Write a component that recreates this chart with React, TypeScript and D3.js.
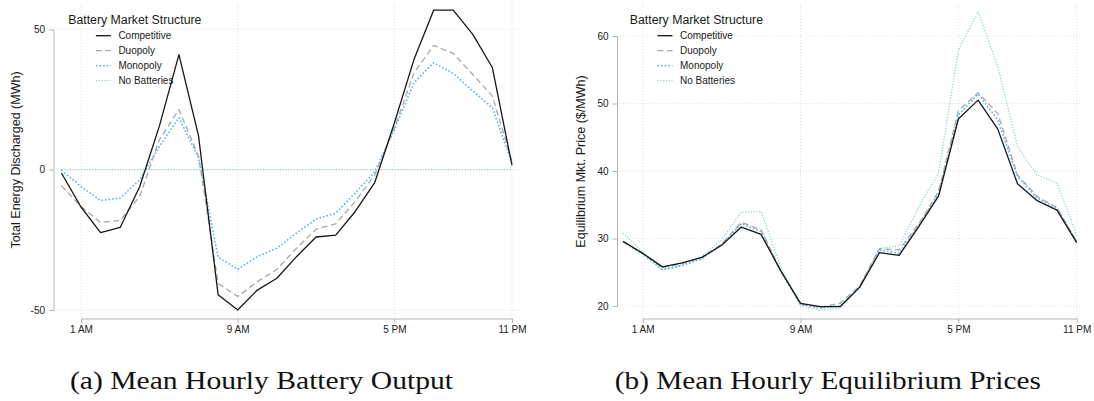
import React, { useRef, useEffect } from 'react';
import * as d3 from 'd3';

// hour of day (0 = midnight)
const hours = [0, 1, 2, 3, 4, 5, 6, 7, 8, 9, 10, 11, 12, 13, 14, 15, 16, 17, 18, 19, 20, 21, 22, 23];
const tickHours = [1, 9, 17, 23];
const tickLabels = ['1 AM', '9 AM', '5 PM', '11 PM'];
const seriesNames = ['Competitive', 'Duopoly', 'Monopoly', 'No Batteries'];
const legendTitle = 'Battery Market Structure';

// (a) total energy discharged (MWh)
const outputCompetitive = [-1.2, -13.3, -22.4, -20.6, -6, 15.5, 41, 12, -44.6, -50, -42.9, -38.7, -31, -24, -23.3, -14.9, -4.5, 16.7, 39.3, 56.8, 56.8, 48.2, 36.3, 1.5];
const outputDuopoly = [-5.7, -13.1, -18.8, -18.1, -9.5, 10.7, 21.4, 4.8, -40.5, -45.2, -39.9, -35.5, -28, -21.2, -19.3, -11.3, -1.8, 14.9, 34.5, 44.3, 41.4, 33.9, 26.2, 3];
const outputMonopoly = [-0.2, -6, -11, -10.1, -3.6, 8.3, 18.5, 4.2, -31.2, -35.5, -31, -28, -22.6, -17.6, -15.5, -8.3, -0.6, 14.3, 31, 38.1, 34.3, 28, 22, 2.4];
const outputNoBatteries = [0, 0, 0, 0, 0, 0, 0, 0, 0, 0, 0, 0, 0, 0, 0, 0, 0, 0, 0, 0, 0, 0, 0, 0];
const outputTicks = [-50, 0, 50];

// (b) equilibrium market price ($/MWh)
const priceCompetitive = [29.6, 27.8, 25.8, 26.4, 27.2, 29.0, 31.7, 30.6, 25.2, 20.4, 19.9, 19.9, 22.8, 27.9, 27.5, 31.8, 36.3, 47.7, 50.5, 46.2, 38.1, 35.6, 34.2, 29.4];
const priceDuopoly = [29.5, 27.8, 25.7, 26.3, 27.2, 29.2, 32.4, 31.3, 25.2, 20.3, 19.8, 20.4, 23.0, 28.5, 28.3, 32.2, 37.0, 48.9, 51.6, 48.5, 39.4, 36.2, 34.6, 29.5];
const priceMonopoly = [29.5, 27.7, 25.4, 26.0, 27.0, 29.1, 32.2, 31.0, 25.1, 20.2, 19.7, 20.0, 22.7, 28.3, 27.8, 32.0, 36.7, 48.3, 51.4, 47.6, 39.2, 36.0, 34.5, 29.5];
const priceNoBatteries = [30.8, 28.0, 25.3, 26.1, 27.4, 29.8, 33.9, 34.0, 25.8, 20.0, 19.4, 19.6, 22.9, 28.5, 28.9, 34.7, 39.7, 57.9, 63.6, 55.5, 43.6, 39.4, 38.2, 30.5];
const priceTicks = [20, 30, 40, 50, 60];

const lineStyles = [
  { color: '#161616', dash: null, width: 1.3 },
  { color: '#a8a8a8', dash: '6,3.5', width: 1.3 },
  { color: '#55b3ec', dash: '1.6,2', width: 1.6 },
  { color: '#8fd4c7', dash: '1.2,1.6', width: 1.3 },
];

const SANS = "'Liberation Sans', Arial, Helvetica, sans-serif";
const SERIF = "'Liberation Serif', 'Times New Roman', serif";

function drawPanel(svg, cfg) {
  const g = svg.append('g');
  const x = d3.scaleLinear().domain([0, 23]).range([cfg.x0, cfg.x23]);
  const y = d3.scaleLinear().domain(cfg.yDomain).range(cfg.yRange);
  const axisY = 318.5;
  const top = 4;

  // grid
  tickHours.forEach((h) => {
    g.append('line')
      .attr('x1', x(h)).attr('x2', x(h))
      .attr('y1', top).attr('y2', axisY)
      .style('stroke', '#d9d9d9').style('stroke-width', 0.8)
      .style('stroke-dasharray', '1,2');
  });
  cfg.yTicks.forEach((v) => {
    g.append('line')
      .attr('x1', cfg.axisX).attr('x2', cfg.gridRight)
      .attr('y1', y(v)).attr('y2', y(v))
      .style('stroke', '#d9d9d9').style('stroke-width', 0.8)
      .style('stroke-dasharray', '1,2');
  });

  // y axis
  const yAxis = g.append('g')
    .attr('transform', `translate(${cfg.axisX},0)`)
    .call(d3.axisLeft(y).tickValues(cfg.yTicks).tickFormat((d) => String(d)).tickSizeInner(4.5).tickSizeOuter(0).tickPadding(4));
  // x axis spans first to last tick only
  const xAxisScale = d3.scaleLinear().domain([1, 23]).range([x(1), x(23)]);
  const xAxis = g.append('g')
    .attr('transform', `translate(0,${axisY})`)
    .call(d3.axisBottom(xAxisScale).tickValues(tickHours)
      .tickFormat((d, i) => tickLabels[i]).tickSizeInner(4.5).tickSizeOuter(0).tickPadding(3));
  [yAxis, xAxis].forEach((ax) => {
    ax.select('.domain').style('stroke', '#b4b4b4').style('stroke-width', 1);
    ax.selectAll('.tick line').style('stroke', '#b4b4b4');
    ax.selectAll('.tick text')
      .style('font-family', SANS).style('font-size', '10px').style('fill', '#1a1a1a');
  });

  // y title
  g.append('text')
    .attr('transform', `translate(${cfg.titleX},${cfg.titleY}) rotate(-90)`)
    .attr('text-anchor', 'middle')
    .style('font-family', SANS).style('font-size', '12.5px').style('fill', '#1a1a1a')
    .text(cfg.yTitle);

  // lines (No Batteries drawn first, Competitive on top)
  const line = d3.line().x((d, i) => x(hours[i])).y((d) => y(d));
  for (let k = cfg.series.length - 1; k >= 0; k--) {
    const st = lineStyles[k];
    g.append('path')
      .attr('d', line(cfg.series[k]))
      .style('fill', 'none')
      .style('stroke', st.color)
      .style('stroke-width', st.width)
      .style('stroke-dasharray', st.dash)
      .style('stroke-linejoin', 'round');
  }

  // legend
  const lx = x(0);
  g.append('text')
    .attr('x', lx + 6.8).attr('y', 23.6)
    .style('font-family', SANS).style('font-size', '12.3px').style('fill', '#1a1a1a')
    .text(legendTitle);
  seriesNames.forEach((name, k) => {
    const cy = 35.7 + k * 15;
    const st = lineStyles[k];
    g.append('line')
      .attr('x1', lx + 34.5).attr('x2', lx + 49.5)
      .attr('y1', cy).attr('y2', cy)
      .style('stroke', st.color).style('stroke-width', st.width)
      .style('stroke-dasharray', st.dash);
    g.append('text')
      .attr('x', lx + 57).attr('y', cy + 3.6)
      .style('font-family', SANS).style('font-size', '10px').style('fill', '#1a1a1a')
      .text(name);
  });

  // caption
  g.append('text')
    .attr('x', cfg.captionX).attr('y', 389)
    .attr('textLength', cfg.captionW).attr('lengthAdjust', 'spacingAndGlyphs')
    .style('font-family', SERIF).style('font-size', '26px').style('fill', '#111')
    .text(cfg.caption);
}

const App = () => {
  const svgRef = useRef();

  useEffect(() => {
    const svg = d3.select(svgRef.current);
    svg.selectAll('*').remove();

    drawPanel(svg, {
      x0: 61.4, x23: 512,
      yDomain: [-50, 50], yRange: [310, 29.3], yTicks: outputTicks,
      axisX: 53.5, gridRight: 520,
      series: [outputCompetitive, outputDuopoly, outputMonopoly, outputNoBatteries],
      yTitle: 'Total Energy Discharged (MWh)', titleX: 19.5, titleY: 160,
      caption: '(a) Mean Hourly Battery Output', captionX: 70, captionW: 383,
    });
    drawPanel(svg, {
      x0: 623, x23: 1076.7,
      yDomain: [20, 60], yRange: [306, 36], yTicks: priceTicks,
      axisX: 617, gridRight: 1085,
      series: [priceCompetitive, priceDuopoly, priceMonopoly, priceNoBatteries],
      yTitle: 'Equilibrium Mkt. Price ($/MWh)', titleX: 585, titleY: 161.5,
      caption: '(b) Mean Hourly Equilibrium Prices', captionX: 614.8, captionW: 426,
    });
  }, []);

  return (
    <div style={{ position: 'fixed', left: 0, top: 0 }}>
      <svg ref={svgRef} width={1094} height={401} style={{ display: 'block', background: '#fff' }} />
    </div>
  );
};

export default App;
